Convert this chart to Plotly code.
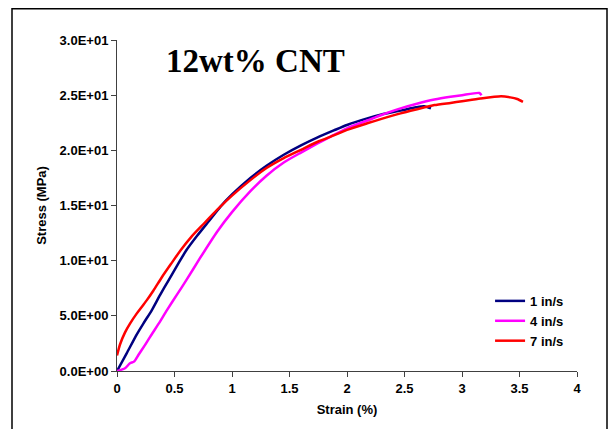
import plotly.graph_objects as go

# 1 in/s (navy)
strain_1 = [0, 0.084, 0.171, 0.229, 0.302, 0.375, 0.447, 0.52, 0.6, 0.7, 0.8, 0.9, 1.0, 1.16, 1.3, 1.45,
            1.6, 1.74, 1.885, 2.0, 2.176, 2.3, 2.466, 2.6, 2.67, 2.73]
stress_1 = [0, 1.6, 3.3, 4.3, 5.5, 6.9, 8.2, 9.5, 10.9, 12.3, 13.6, 14.9, 16.0, 17.5, 18.6, 19.6,
            20.45, 21.15, 21.8, 22.3, 22.9, 23.25, 23.6, 23.9, 24.0, 23.8]

# 4 in/s (magenta)
strain_4 = [0, 0.07, 0.113, 0.148, 0.186, 0.24, 0.288, 0.375, 0.433, 0.52, 0.607, 0.72, 0.869, 1.0, 1.16,
            1.3, 1.45, 1.6, 1.74, 1.885, 2.0, 2.176, 2.3, 2.466, 2.6, 2.76, 2.9, 3.0, 3.15, 3.17]
stress_4 = [0, 0.25, 0.7, 0.85, 1.45, 2.3, 3.1, 4.5, 5.5, 6.9, 8.3, 10.2, 12.6, 14.4, 16.3,
            17.7, 18.9, 19.8, 20.6, 21.4, 22.0, 22.7, 23.2, 23.8, 24.2, 24.6, 24.85, 25.0, 25.2, 25.0]

# 7 in/s (red)
strain_7 = [0, 0.026, 0.07, 0.113, 0.171, 0.215, 0.258, 0.317, 0.39, 0.476, 0.55, 0.65, 0.75, 0.87, 1.0,
            1.16, 1.3, 1.45, 1.6, 1.75, 1.885, 2.0, 2.176, 2.3, 2.466, 2.6, 2.76, 2.9, 3.0, 3.16, 3.34,
            3.42, 3.48, 3.53]
stress_7 = [1.4, 2.4, 3.5, 4.3, 5.2, 5.8, 6.4, 7.3, 8.5, 9.8, 10.9, 12.2, 13.3, 14.6, 15.9,
            17.3, 18.4, 19.3, 20.05, 20.8, 21.35, 21.85, 22.45, 22.85, 23.35, 23.7, 24.1, 24.3, 24.45, 24.7, 24.9,
            24.8, 24.65, 24.4]

x_ticks = [0, 0.5, 1, 1.5, 2, 2.5, 3, 3.5, 4]
x_ticktext = ["0", "0.5", "1", "1.5", "2", "2.5", "3", "3.5", "4"]
y_ticks = [0, 5, 10, 15, 20, 25, 30]
y_ticktext = ["0.0E+00", "5.0E+00", "1.0E+01", "1.5E+01", "2.0E+01", "2.5E+01", "3.0E+01"]

series = [
    ("1 in/s", strain_1, stress_1, "#000080"),
    ("4 in/s", strain_4, stress_4, "#FF00FF"),
    ("7 in/s", strain_7, stress_7, "#FF0000"),
]

fig = go.Figure()
for name, xs, ys, col in series:
    fig.add_trace(go.Scatter(x=xs, y=ys, name=name, mode="lines",
                             line=dict(color=col, width=2.5, shape="spline", smoothing=0.6)))

# page body has an 8px margin, so the figure is offset by 8px; keep it inside the window
W, H = 600, 421
L, T, PW, PH = 109, 32, 460, 331

font_family = "Liberation Sans, Arial, sans-serif"
fig.update_layout(
    width=W, height=H,
    margin=dict(l=L, r=W - L - PW, t=T, b=H - T - PH, autoexpand=False),
    paper_bgcolor="white", plot_bgcolor="white",
    showlegend=True,
    legend=dict(x=0.811, y=0.257, xanchor="left", yanchor="top",
                font=dict(family=font_family, size=13, color="black", weight="bold"),
                bgcolor="rgba(0,0,0,0)", tracegroupgap=0, itemwidth=30),
    xaxis=dict(range=[0, 4], tickvals=x_ticks, ticktext=x_ticktext, automargin=False,
               showgrid=False, zeroline=False, showline=True, linecolor="#404040", linewidth=1,
               ticks="outside", ticklen=5, tickcolor="#404040",
               tickfont=dict(family=font_family, size=13, color="black", weight="bold"),
               title=dict(text="Strain (%)", standoff=10,
                          font=dict(family=font_family, size=13, color="black", weight="bold"))),
    yaxis=dict(range=[0, 30], tickvals=y_ticks, ticktext=y_ticktext, automargin=False,
               showgrid=False, zeroline=False, showline=True, linecolor="#404040", linewidth=1,
               ticks="outside", ticklen=5, tickcolor="#404040",
               tickfont=dict(family=font_family, size=13, color="black", weight="bold"),
               title=dict(text="Stress (MPa)", standoff=10,
                          font=dict(family=font_family, size=13, color="black", weight="bold"))),
)

fig.add_annotation(text="12wt% CNT", xref="paper", yref="paper", x=0.301, y=0.938,
                   xanchor="center", yanchor="middle", showarrow=False,
                   font=dict(family="Liberation Serif, Times New Roman, serif", size=33,
                             color="black", weight="bold"))

# outer chart border (figure pixel coords -> paper coords)
bx0, bx1, by_top, by_bot = 4, 599, 0.75, 440
fig.add_shape(type="rect", xref="paper", yref="paper",
              x0=(bx0 - L) / PW, x1=(bx1 - L) / PW,
              y0=(T + PH - by_bot) / PH, y1=(T + PH - by_top) / PH,
              line=dict(color="black", width=1.5), fillcolor="rgba(0,0,0,0)", layer="below")

fig.write_html("out.html")
